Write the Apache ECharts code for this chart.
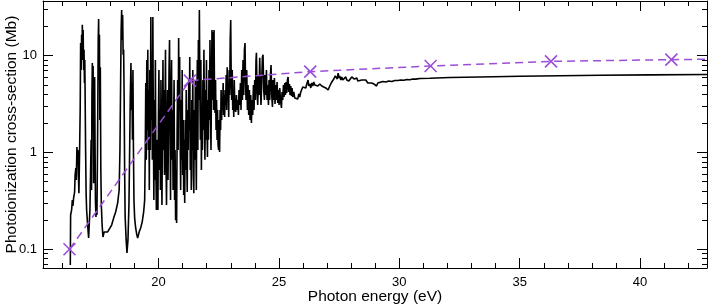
<!DOCTYPE html>
<html>
<head>
<meta charset="utf-8">
<script src="https://cdn.jsdelivr.net/npm/echarts@6/dist/echarts.min.js"></script>
<style>
html,body{margin:0;padding:0;background:#fff;}
#chart{width:708px;height:306px;}
</style>
</head>
<body>
<div id="chart"></div>
<script>
// ---- Data ----
// Photon energy (eV) and cross-section (Mb), segment A: 16.3 - 19.4 eV
const energyA = [16.334,16.347,16.389,16.418,16.443,16.472,16.513,16.534,16.563,16.584,16.609,16.630,16.650,16.671,16.692,16.721,16.746,16.763,16.783,16.804,16.821,16.833,16.850,16.867,16.887,16.904,16.921,16.937,16.954,16.970,16.991,17.012,17.054,17.095,17.120,17.149,17.178,17.199,17.216,17.232,17.249,17.266,17.282,17.303,17.324,17.345,17.361,17.378,17.399,17.419,17.440,17.461,17.478,17.494,17.511,17.527,17.544,17.561,17.581,17.602,17.623,17.656,17.690,17.739,17.802,17.885,17.968,18.051,18.134,18.217,18.300,18.363,18.396,18.425,18.446,18.467,18.487,18.508,18.529,18.550,18.571,18.591,18.612,18.654,18.687,18.729,18.770,18.799,18.824,18.853,18.874,18.895,18.916,18.936,18.957,18.978,19.007,19.049,19.090,19.132,19.194,19.256,19.319,19.381,19.423];
const crossA = [0.069,0.226,0.255,0.323,0.28,0.34,0.39,0.585,0.69,0.52,1.14,0.88,1.06,0.585,0.38,1.06,2.95,13.5,7.1,16.4,9.0,20.8,12.9,18.4,7.1,11.5,5.22,9.0,2.95,1.06,0.38,0.255,0.178,0.131,0.178,0.255,0.66,1.35,0.41,3.93,8.4,2.17,7.8,0.48,0.84,6.03,1.35,0.323,0.216,0.287,0.226,0.84,3.49,14.5,23.9,5.61,16.4,2.17,7.6,0.66,0.287,0.178,0.134,0.151,0.158,0.151,0.158,0.178,0.21,0.243,0.30,0.41,1.06,5.61,18.4,29.7,14.5,26.3,10.2,11.5,3.49,0.66,0.216,0.125,0.0915,0.125,0.287,1.06,3.49,8.4,2.75,5.22,1.35,7.1,1.06,0.323,0.21,0.166,0.144,0.131,0.151,0.166,0.191,0.243,0.323];

// segment B: dense resonances 19.4 - 23.2 eV
const energyB = [19.448,19.469,19.490,19.511,19.532,19.553,19.574,19.595,19.616,19.637,
19.658,19.679,19.700,19.721,19.742,19.763,19.784,19.805,19.826,19.847,
19.868,19.889,19.910,19.931,19.952,19.973,19.994,20.015,20.036,20.057,
20.078,20.099,20.120,20.141,20.162,20.183,20.204,20.225,20.246,20.267,
20.288,20.309,20.330,20.351,20.372,20.393,20.414,20.435,20.456,20.477,
20.498,20.519,20.540,20.561,20.582,20.603,20.624,20.645,20.666,20.687,
20.708,20.729,20.750,20.771,20.792,20.813,20.834,20.855,20.876,20.897,
20.918,20.939,20.960,20.981,21.002,21.023,21.044,21.065,21.086,21.107,
21.128,21.149,21.170,21.191,21.212,21.233,21.254,21.275,21.296,21.317,
21.338,21.359,21.380,21.401,21.422,21.443,21.464,21.485,21.506,21.527,
21.548,21.569,21.590,21.611,21.632,21.653,21.674,21.695,21.716,21.737,
21.758,21.779,21.800,21.821,21.842,21.863,21.884,21.905,21.926,21.947,
21.968,21.989,22.010,22.031,22.052,22.073,22.094,22.115,22.136,22.157,
22.178,22.199,22.220,22.241,22.262,22.283,22.304,22.325,22.346,22.367,
22.388,22.409,22.430,22.451,22.472,22.493,22.514,22.535,22.556,22.577,
22.598,22.619,22.640,22.661,22.682,22.703,22.724,22.745,22.766,22.787,
22.808,22.829,22.850,22.871,22.892,22.913,22.934,22.955,22.976,22.997,
23.018,23.039,23.060,23.081,23.102,23.123,23.144,23.165];
const crossB = [1.06,5.22,0.84,9.0,1.71,11.5,1.06,4.42,0.41,7.1,
1.06,25.1,2.17,9.0,0.84,25.1,1.71,0.323,3.49,0.52,
9.0,0.66,0.255,1.35,0.323,0.255,2.17,7.1,0.66,2.75,
0.41,5.61,0.84,0.287,1.71,9.0,1.06,4.42,0.585,2.44,
11.5,0.84,0.287,1.35,4.42,0.52,2.17,7.1,14.5,1.71,
0.323,3.49,9.0,0.84,2.75,0.41,1.71,5.61,0.323,1.06,
0.20,0.66,0.187,1.71,5.61,1.06,15.2,2.75,9.7,1.35,
0.41,3.49,0.84,7.1,0.585,2.17,0.364,1.35,0.30,2.17,
0.66,4.42,0.84,0.39,2.75,1.06,5.61,1.71,9.7,0.66,
2.17,0.41,3.49,1.06,7.1,0.585,0.38,2.75,0.84,5.61,
1.35,0.41,3.49,9.0,1.06,14.5,3.49,29.7,4.42,1.35,
9.0,0.66,2.75,1.06,5.61,1.71,11.5,2.17,0.84,4.42,
1.35,9.0,1.92,0.90,3.49,1.35,7.1,2.17,14.5,2.75,
1.06,5.61,18.4,3.49,17.6,2.75,18.4,3.93,2.56,5.61,
1.71,3.49,1.35,2.75,1.20,1.06,2.17,1.01,2.75,1.71,
4.42,2.17,3.49,2.75,5.22,2.44,3.93,2.33,4.42,3.09,
6.32,2.75,7.6,3.49,4.98,2.33,7.1,3.93,14.5,23.4,
5.61,3.49,7.1,2.75,4.42,2.33,5.61,3.09];

// segment C: 23.2 - 42.8 eV
const energyC = [23.205,23.234,23.259,23.288,23.317,23.342,23.371,23.400,23.425,23.454,
23.483,23.508,23.537,23.566,23.591,23.612,23.633,23.662,23.691,23.716,
23.745,23.774,23.799,23.828,23.857,23.882,23.911,23.940,23.965,23.994,
24.023,24.048,24.065,24.090,24.119,24.148,24.173,24.202,24.231,24.256,
24.285,24.314,24.339,24.368,24.397,24.422,24.452,24.481,24.506,24.535,
24.564,24.589,24.618,24.647,24.672,24.701,24.730,24.755,24.784,24.813,
24.838,24.868,24.897,24.922,24.950,24.980,25.004,25.034,25.063,25.104,
25.129,25.158,25.187,25.212,25.241,25.270,25.295,25.324,25.353,25.379,
25.408,25.437,25.462,25.491,25.520,25.545,25.574,25.615,25.657,25.699,
25.740,25.782,25.823,25.865,25.907,25.948,25.990,26.031,26.073,26.114,
26.156,26.210,26.239,26.281,26.322,26.364,26.405,26.447,26.488,26.530,
26.613,26.696,26.779,26.862,26.945,27.041,27.112,27.195,27.278,27.340,
27.390,27.423,27.457,27.494,27.527,27.569,27.611,27.652,27.694,27.735,
27.777,27.818,27.860,27.902,27.943,27.985,28.026,28.080,28.130,28.192,
28.234,28.276,28.317,28.359,28.442,28.525,28.608,28.691,28.774,28.857,
28.941,29.053,29.107,29.190,29.315,29.439,29.564,29.689,29.813,29.938,
30.063,30.187,30.312,30.437,30.561,30.686,30.852,31.268,32.099,33.346,
35.009,36.671,38.334,40.412,42.781];
const crossC = [2.62,3.93,2.75,3.49,2.44,4.42,3.09,5.22,2.75,7.1,
3.49,9.0,3.93,11.5,13.5,5.61,3.49,7.1,2.75,4.98,
2.44,4.42,2.17,3.93,2.02,3.49,2.44,4.98,2.75,5.61,
3.49,9.0,10.7,4.42,3.09,6.32,3.93,9.5,4.42,3.09,
5.61,9.7,10.2,4.42,3.49,6.32,3.93,7.1,3.49,4.98,
3.09,5.61,3.49,6.32,8.0,3.93,2.95,5.61,3.49,5.88,
3.17,4.98,3.49,5.35,3.25,4.42,3.09,4.64,3.49,2.88,
4.22,3.49,4.98,3.74,5.22,3.93,5.35,4.12,5.61,6.03,
4.22,5.10,3.93,4.86,3.83,4.64,3.74,4.22,3.66,3.49,
3.83,3.57,4.02,3.74,4.22,4.42,4.75,4.53,4.86,4.64,
5.10,5.61,4.86,5.10,4.64,5.22,4.86,5.35,4.98,5.22,
4.86,5.10,4.86,4.75,4.64,4.42,4.86,5.35,5.74,6.17,
6.32,5.74,6.6,5.88,6.17,5.61,6.03,5.61,5.88,5.48,
6.03,5.61,5.88,5.48,5.74,5.61,6.03,6.32,5.74,5.61,
5.88,5.48,5.74,5.48,5.61,5.35,5.61,5.22,5.35,5.22,
5.10,4.86,5.22,5.35,5.41,5.35,5.48,5.41,5.54,5.54,
5.61,5.57,5.68,5.64,5.74,5.72,5.81,5.85,5.95,6.03,
6.13,6.20,6.27,6.33,6.39];

// Model (purple dashed, X markers)
const modelEnergy = [16.3, 21.3, 26.3, 31.3, 36.3, 41.3, 46.3];
const modelCross  = [0.1, 5.52, 6.84, 7.82, 8.73, 9.1, 9.4];

// Axis ticks
const xMajorTicks = [20, 25, 30, 35, 40];
const xMinorTicks = [16,17,18,19,21,22,23,24,26,27,28,29,31,32,33,34,36,37,38,39,41,42];
const yMajorTicks = [0.1, 1, 10];
const yMinorTicks = [0.07,0.08,0.09,0.2,0.3,0.4,0.5,0.6,0.7,0.8,0.9,2,3,4,5,6,7,8,9,20,30];

const X_MIN = 15.2, X_MAX = 42.78;
const Y_MIN = 0.0641, Y_MAX = 36.7;

// ---- Build ----
function zip(a, b) {
  const n = Math.min(a.length, b.length);
  const out = [];
  for (let i = 0; i < n; i++) out.push([a[i], b[i]]);
  return out;
}
const spectrum = zip(energyA, crossA).concat(zip(energyB, crossB), zip(energyC, crossC));
const model = zip(modelEnergy, modelCross);

const FONT = "'Liberation Sans', Arial, Helvetica, sans-serif";
const PURPLE = '#9a4fd6';
const lineBlack = { color: '#000', width: 1 };

function xAx(pos, ticks, len, showLine, extra) {
  return Object.assign({
    type: 'value', position: pos, min: X_MIN, max: X_MAX,
    splitLine: { show: false },
    axisLine: { show: showLine, onZero: false, lineStyle: lineBlack },
    axisTick: { show: true, inside: true, length: len, customValues: ticks, lineStyle: lineBlack },
    axisLabel: { show: false }
  }, extra || {});
}
function yAx(pos, ticks, len, showLine, extra) {
  return Object.assign({
    type: 'log', logBase: 10, position: pos, min: Y_MIN, max: Y_MAX,
    splitLine: { show: false },
    axisLine: { show: showLine, onZero: false, lineStyle: lineBlack },
    axisTick: { show: true, inside: true, length: len, customValues: ticks, lineStyle: lineBlack },
    axisLabel: { show: false }
  }, extra || {});
}

const chart = echarts.init(document.getElementById('chart'), null, { renderer: 'canvas' });
chart.setOption({
  animation: false,
  backgroundColor: '#fff',
  grid: { left: 43, right: 1, top: 1, bottom: 38, containLabel: false, outerBoundsMode: 'none' },
  xAxis: [
    xAx('bottom', xMajorTicks, 10, true, {
      axisLabel: { show: true, customValues: xMajorTicks, color: '#000', fontSize: 13, fontFamily: FONT, margin: 8 },
      name: 'Photon energy (eV)', nameLocation: 'middle', nameGap: 21, nameMoveOverlap: false,
      nameTextStyle: { color: '#000', fontSize: 15.5, fontFamily: FONT }
    }),
    xAx('bottom', xMinorTicks, 5, false),
    xAx('top', xMajorTicks, 10, true),
    xAx('top', xMinorTicks, 5, false)
  ],
  yAxis: [
    yAx('left', yMajorTicks, 10, true, {
      axisLabel: { show: true, customValues: yMajorTicks, color: '#000', fontSize: 13, fontFamily: FONT, margin: 6 },
      name: 'Photoionization cross-section (Mb)', nameLocation: 'middle', nameGap: 23, nameMoveOverlap: false,
      nameTextStyle: { color: '#000', fontSize: 15.5, fontFamily: FONT }
    }),
    yAx('left', yMinorTicks, 5, false),
    yAx('right', yMajorTicks, 10, true),
    yAx('right', yMinorTicks, 5, false)
  ],
  series: [
    {
      type: 'line', xAxisIndex: 0, yAxisIndex: 0, data: spectrum,
      symbol: 'none', showSymbol: false, sampling: null, clip: true, z: 2,
      lineStyle: { color: '#000', width: 1.6 },
      emphasis: { disabled: true }
    },
    {
      type: 'line', xAxisIndex: 0, yAxisIndex: 0, data: model,
      symbol: 'path://M0,0L10,10M10,0L0,10', symbolSize: 12, showSymbol: true, clip: true, z: 3,
      itemStyle: { color: 'rgba(0,0,0,0)', borderColor: PURPLE, borderWidth: 1.6 },
      lineStyle: { color: PURPLE, width: 1.5, type: [8, 5] },
      emphasis: { disabled: true }
    }
  ]
});
</script>
</body>
</html>
